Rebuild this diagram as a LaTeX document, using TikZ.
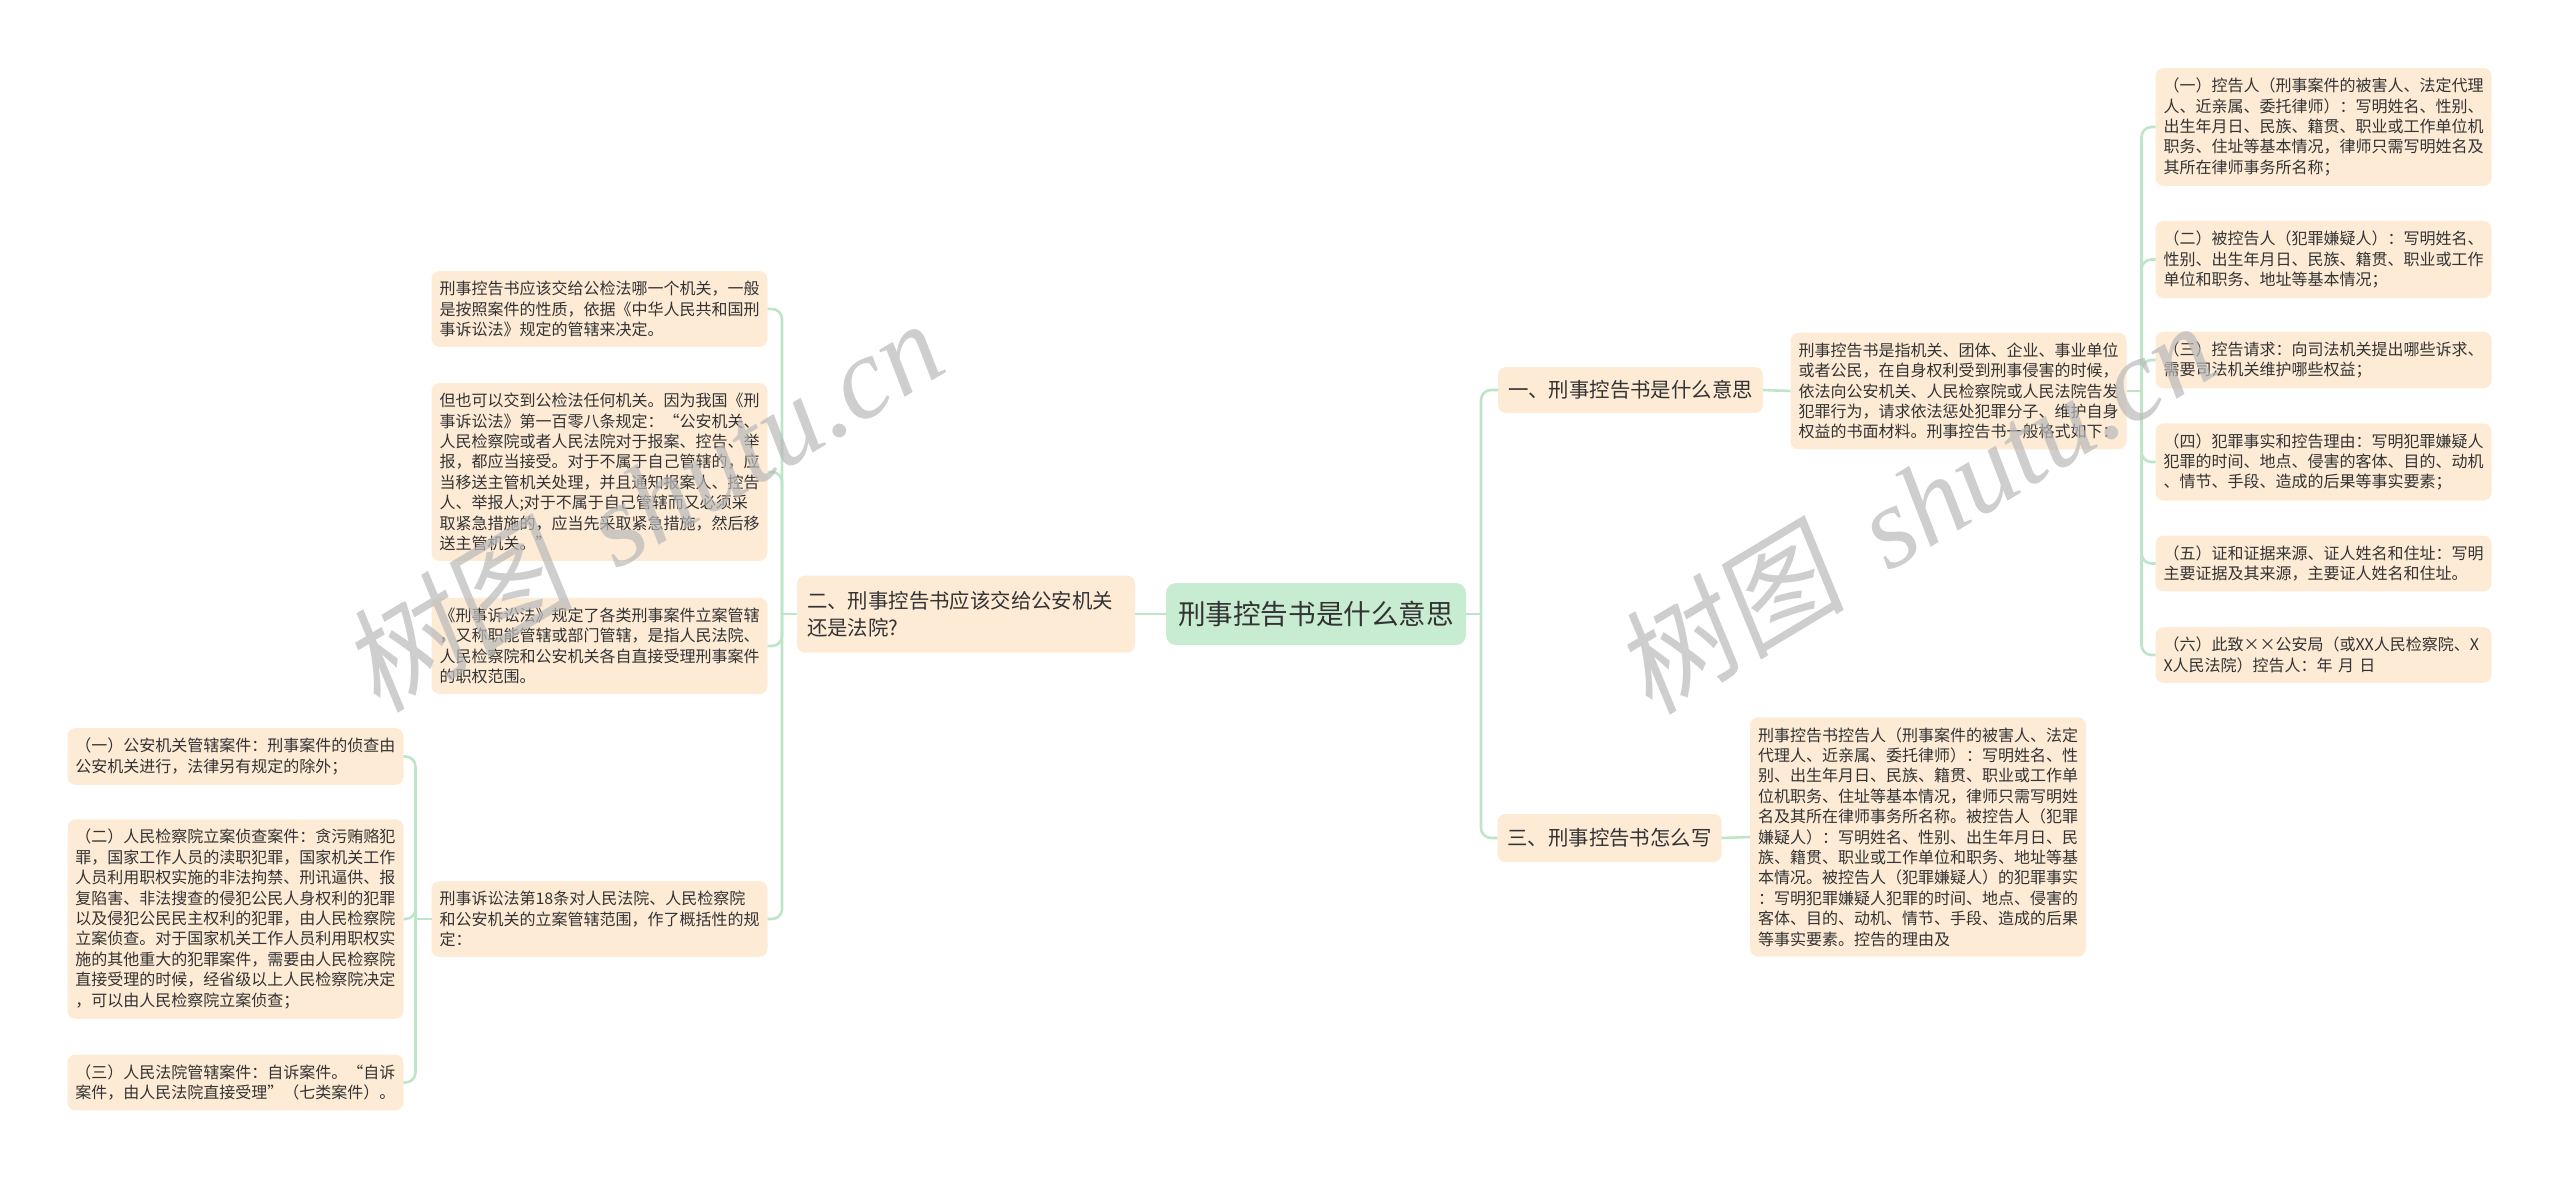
\documentclass[tikz,border=0pt]{standalone}
\usepackage{fontspec}
\setmainfont{Noto Sans CJK SC}
\newfontfamily\wmcjk[FakeSlant=0.15]{Noto Sans CJK SC}
\newfontfamily\wmserif{Liberation Serif}
\definecolor{peach}{RGB}{253,235,214}
\definecolor{mint}{RGB}{200,236,209}
\definecolor{sprout}{RGB}{190,229,200}
\definecolor{inkgray}{RGB}{51,51,51}
\definecolor{wmgray}{RGB}{185,185,185}
\begin{document}
\begin{tikzpicture}[x=0.5pt, y=-0.5pt, every node/.style={text=inkgray, outer sep=0pt},
    leaf/.style={fill=peach, rounded corners=4pt, inner xsep=4pt, inner ysep=5pt, text width=160pt, align=left, font=\fontsize{8pt}{10.2pt}\selectfont},
    topic/.style={fill=peach, rounded corners=4pt, inner xsep=5pt, inner ysep=0pt, align=left, font=\fontsize{10.2pt}{13.5pt}\selectfont},
    central/.style={fill=mint, rounded corners=5pt, inner xsep=6pt, inner ysep=0pt, minimum height=31pt, font=\fontsize{13.8pt}{16pt}\selectfont},
    link/.style={draw=sprout, line width=1.3pt, rounded corners=5pt},
    watermark/.style={text=wmgray, opacity=0.7, inner sep=0pt, font=\fontsize{58pt}{62pt}\selectfont}]
    \useasboundingbox (0,0) rectangle (2560,1179);

    % Centre
    \node[central] (root) at (1316, 614) {刑事控告书是什么意思};

    % Branch 1
    \node[topic, minimum height=23pt] (whatis) at (1630.5, 390) {一、刑事控告书是什么意思};
    \node[leaf] (whatisdef) at (1958.5, 391) {刑事控告书是指机关、团体、企业、事业单位\\或者公民，在自身权利受到刑事侵害的时候，\\依法向公安机关、人民检察院或人民法院告发\\犯罪行为，请求依法惩处犯罪分子、维护自身\\权益的书面材料。刑事控告书一般格式如下：};
    \node[leaf] (fmt1) at (2323.5, 127) {（一）控告人（刑事案件的被害人、法定代理\\人、近亲属、委托律师）：写明姓名、性别、\\出生年月日、民族、籍贯、职业或工作单位机\\职务、住址等基本情况，律师只需写明姓名及\\其所在律师事务所名称；};
    \node[leaf] (fmt2) at (2323.5, 259.5) {（二）被控告人（犯罪嫌疑人）：写明姓名、\\性别、出生年月日、民族、籍贯、职业或工作\\单位和职务、地址等基本情况；};
    \node[leaf] (fmt3) at (2323.5, 360) {（三）控告请求：向司法机关提出哪些诉求、\\需要司法机关维护哪些权益；};
    \node[leaf] (fmt4) at (2323.5, 462) {（四）犯罪事实和控告理由：写明犯罪嫌疑人\\犯罪的时间、地点、侵害的客体、目的、动机\\、情节、手段、造成的后果等事实要素；};
    \node[leaf] (fmt5) at (2323.5, 563.5) {（五）证和证据来源、证人姓名和住址：写明\\主要证据及其来源，主要证人姓名和住址。};
    \node[leaf] (fmt6) at (2323.5, 655) {（六）此致××公安局（或XX人民检察院、X\\X人民法院）控告人：年 月 日};

    % Branch 3
    \node[topic, minimum height=24pt] (howto) at (1609.5, 838) {三、刑事控告书怎么写};
    \node[leaf] (howtodef) at (1918, 837) {刑事控告书控告人（刑事案件的被害人、法定\\代理人、近亲属、委托律师）：写明姓名、性\\别、出生年月日、民族、籍贯、职业或工作单\\位机职务、住址等基本情况，律师只需写明姓\\名及其所在律师事务所名称。被控告人（犯罪\\嫌疑人）：写明姓名、性别、出生年月日、民\\族、籍贯、职业或工作单位和职务、地址等基\\本情况。被控告人（犯罪嫌疑人）的犯罪事实\\：写明犯罪嫌疑人犯罪的时间、地点、侵害的\\客体、目的、动机、情节、手段、造成的后果\\等事实要素。控告的理由及};

    % Branch 2
    \node[topic, text width=159pt, minimum height=38.5pt] (where) at (966, 614) {二、刑事控告书应该交给公安机关\\还是法院?};
    \node[leaf] (where1) at (599.5, 309) {刑事控告书应该交给公检法哪一个机关，一般\\是按照案件的性质，依据《中华人民共和国刑\\事诉讼法》规定的管辖来决定。};
    \node[leaf] (where2) at (599.5, 472) {但也可以交到公检法任何机关。因为我国《刑\\事诉讼法》第一百零八条规定：“公安机关、\\人民检察院或者人民法院对于报案、控告、举\\报，都应当接受。对于不属于自己管辖的，应\\当移送主管机关处理，并且通知报案人、控告\\人、举报人;对于不属于自己管辖而又必须采\\取紧急措施的，应当先采取紧急措施，然后移\\送主管机关。”};
    \node[leaf] (where3) at (599.5, 646) {《刑事诉讼法》规定了各类刑事案件立案管辖\\，又称职能管辖或部门管辖，是指人民法院、\\人民检察院和公安机关各自直接受理刑事案件\\的职权范围。};
    \node[leaf] (where4) at (599.5, 919) {刑事诉讼法第18条对人民法院、人民检察院\\和公安机关的立案管辖范围，作了概括性的规\\定：};
    \node[leaf] (jur1) at (235.5, 756.5) {（一）公安机关管辖案件：刑事案件的侦查由\\公安机关进行，法律另有规定的除外；};
    \node[leaf] (jur2) at (235.5, 919) {（二）人民检察院立案侦查案件：贪污贿赂犯\\罪，国家工作人员的渎职犯罪，国家机关工作\\人员利用职权实施的非法拘禁、刑讯逼供、报\\复陷害、非法搜查的侵犯公民人身权利的犯罪\\以及侵犯公民民主权利的犯罪，由人民检察院\\立案侦查。对于国家机关工作人员利用职权实\\施的其他重大的犯罪案件，需要由人民检察院\\直接受理的时候，经省级以上人民检察院决定\\，可以由人民检察院立案侦查；};
    \node[leaf] (jur3) at (235.5, 1082.5) {（三）人民法院管辖案件：自诉案件。“自诉\\案件，由人民法院直接受理”（七类案件）。};

    % Connectors
    \coordinate (rootR) at ([xshift=7.5pt]root.east);
    \coordinate (defR) at ([xshift=7.5pt]whatisdef.east);
    \coordinate (whereL) at ([xshift=-7.5pt]where.west);
    \coordinate (jurL) at ([xshift=-8pt]where4.west);
    \draw[link] (root.east) -- (rootR);
    \draw[link] (rootR) |- (whatis.west);
    \draw[link] (rootR) |- (howto.west);
    \draw[link] (whatis.east) -- (whatisdef.west);
    \draw[link] (howto.east) -- (howtodef.west);
    \draw[link] (whatisdef.east) -- (defR);
    \foreach \k in {1,...,6}
        \draw[link] (defR) |- (fmt\k.west);
    \draw[link] (root.west) -- (where.east);
    \draw[link] (where.west) -- (whereL);
    \foreach \k in {1,...,4}
        \draw[link] (whereL) |- (where\k.east);
    \draw[link] (where4.west) -- (jurL);
    \foreach \k in {1,2,3}
        \draw[link] (jurL) |- (jur\k.east);

    % Watermarks
    \node[watermark, rotate=31, anchor=base west] (wmleft) at (378, 714) {{\wmcjk 树图}\hspace{0.4em}{\wmserif\itshape shutu.cn}};
    \node[watermark, rotate=31, anchor=base west] (wmright) at (1650, 716) {{\wmcjk 树图}\hspace{0.4em}{\wmserif\itshape shutu.cn}};
\end{tikzpicture}
\end{document}
